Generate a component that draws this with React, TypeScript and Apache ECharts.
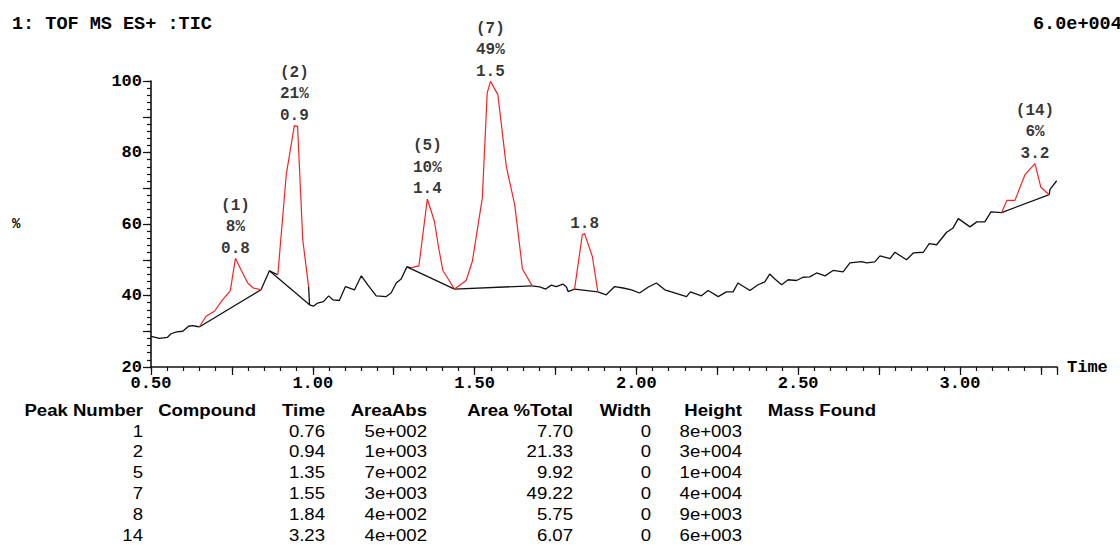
import React, { useEffect, useRef } from "react";
import * as echarts from "echarts";

// ---------- data ----------
const traceTimes = [
  0.5, 0.526, 0.551, 0.562, 0.579, 0.598, 0.616, 0.629, 0.639, 0.649,
  0.67, 0.696, 0.721, 0.745, 0.761, 0.778, 0.799, 0.816, 0.84, 0.866,
  0.892, 0.918, 0.943, 0.953, 0.969, 0.987, 0.99, 1.002, 1.015, 1.033,
  1.049, 1.062, 1.082, 1.101, 1.129, 1.15, 1.17, 1.196, 1.227, 1.242,
  1.258, 1.273, 1.291, 1.304, 1.314, 1.328, 1.354, 1.376, 1.39, 1.402,
  1.42, 1.438, 1.474, 1.493, 1.524, 1.539, 1.549, 1.572, 1.598, 1.624,
  1.648, 1.678, 1.701, 1.72, 1.737, 1.753, 1.773, 1.784, 1.789, 1.809,
  1.833, 1.84, 1.864, 1.881, 1.907, 1.933, 1.959, 1.985, 2.01, 2.036,
  2.062, 2.088, 2.108, 2.155, 2.167, 2.201, 2.222, 2.253, 2.278, 2.299,
  2.314, 2.351, 2.376, 2.397, 2.412, 2.428, 2.449, 2.469, 2.495, 2.515,
  2.536, 2.557, 2.583, 2.608, 2.639, 2.66, 2.696, 2.712, 2.737, 2.753,
  2.784, 2.799, 2.835, 2.856, 2.887, 2.905, 2.928, 2.959, 2.979, 2.995,
  3.031, 3.052, 3.077, 3.096, 3.129, 3.145, 3.17, 3.201, 3.232, 3.25,
  3.276, 3.278, 3.299,
];
const traceValues = [
  28.6, 28.0, 28.3, 29.3, 29.8, 30.0, 31.4, 31.6, 31.4, 31.2,
  34.2, 35.6, 38.8, 41.3, 50.4, 47.2, 43.5, 42.1, 41.6, 46.9,
  45.8, 73.8, 87.5, 87.3, 55.6, 42.5, 37.4, 37.0, 37.9, 38.3,
  39.9, 38.8, 38.6, 42.5, 41.6, 45.5, 43.0, 39.9, 39.7, 40.7,
  43.5, 44.6, 48.0, 47.7, 48.0, 48.3, 67.0, 60.7, 52.8, 47.0,
  44.4, 41.8, 44.2, 49.5, 67.3, 96.6, 99.9, 96.2, 76.1, 65.4,
  47.4, 42.7, 42.4, 41.8, 42.9, 42.5, 43.2, 42.4, 41.1, 41.8,
  57.0, 57.3, 50.9, 41.0, 40.2, 42.5, 42.1, 41.6, 40.7, 42.3,
  43.5, 41.6, 41.0, 39.7, 41.0, 39.9, 41.4, 39.7, 41.0, 41.0,
  43.5, 41.4, 43.0, 43.8, 46.0, 44.6, 43.0, 44.4, 44.2, 45.1,
  45.2, 46.3, 45.5, 47.0, 46.6, 49.1, 49.5, 49.1, 49.4, 51.1,
  50.3, 52.1, 50.0, 51.9, 52.1, 54.5, 54.2, 57.7, 58.9, 61.5,
  59.2, 60.6, 60.6, 63.4, 63.2, 66.6, 66.6, 73.8, 76.9, 70.3,
  68.2, 69.6, 72.1,
];

const peakStarts = [0.649, 0.892, 1.304, 1.438, 1.809, 3.129];
const peakEnds = [0.84, 0.987, 1.438, 1.678, 1.881, 3.276];
const baselineStarts = [0.649, 0.866, 1.291, 1.438, 1.809, 3.129];
const baselineEnds = [0.84, 0.99, 1.438, 1.678, 1.881, 3.276];
const peakIdLabels = ["(1)", "(2)", "(5)", "(7)", "", "(14)"];
const peakPercentLabels = ["8%", "21%", "10%", "49%", "", "6%"];
const peakTimeLabels = ["0.8", "0.9", "1.4", "1.5", "1.8", "3.2"];

const xMin = 0.5;
const xMax = 3.3;
const yMin = 20;
const yMax = 100;
const xAxisName = "Time";
const headerLeft = "1: TOF MS ES+ :TIC";
const headerRight = "6.0e+004";
const yUnit = "%";

const tableHeaders = ["Peak Number", "Compound", "Time", "AreaAbs", "Area %Total", "Width", "Height", "Mass Found"];
const tablePeak = ["1", "2", "5", "7", "8", "14"];
const tableCompound = ["", "", "", "", "", ""];
const tableTime = ["0.76", "0.94", "1.35", "1.55", "1.84", "3.23"];
const tableAreaAbs = ["5e+002", "1e+003", "7e+002", "3e+003", "4e+002", "4e+002"];
const tableAreaPct = ["7.70", "21.33", "9.92", "49.22", "5.75", "6.07"];
const tableWidth = ["0", "0", "0", "0", "0", "0"];
const tableHeight = ["8e+003", "3e+004", "1e+004", "4e+004", "9e+003", "6e+003"];
const tableMass = ["", "", "", "", "", ""];

// ---------- layout / style ----------
const MONO = "'Liberation Mono', 'Courier New', monospace";
const SANS = "'Liberation Sans', Arial, Helvetica, sans-serif";
const INK = "#111";
const RED = "#ff1f1f";
const EPS = 1e-6;

function idxOf(t: number) {
  let best = 0;
  for (let i = 0; i < traceTimes.length; i++) {
    if (Math.abs(traceTimes[i] - t) < Math.abs(traceTimes[best] - t)) best = i;
  }
  return best;
}

export default function App() {
  const ref = useRef<HTMLDivElement>(null);

  useEffect(() => {
    if (!ref.current) return;
    const chart = echarts.init(ref.current, null, { renderer: "svg" });

    const insidePeak = (t: number) =>
      peakStarts.some((s, k) => t > s + EPS && t < peakEnds[k] - EPS);

    const blackData = traceTimes.map((t, i) => (insidePeak(t) ? [t, "-"] : [t, traceValues[i]]));

    const redSeries = peakStarts.map((s, k) => ({
      type: "line",
      xAxisIndex: 0,
      yAxisIndex: 0,
      data: traceTimes
        .map((t, i) => [t, traceValues[i]])
        .filter((p) => p[0] >= s - EPS && p[0] <= peakEnds[k] + EPS),
      symbol: "none",
      silent: true,
      lineStyle: { color: RED, width: 1.2 },
      z: 4,
    }));

    const baselineSeries = baselineStarts.map((s, k) => {
      const a = idxOf(s);
      const b = idxOf(baselineEnds[k]);
      return {
        type: "line",
        xAxisIndex: 0,
        yAxisIndex: 0,
        data: [
          [traceTimes[a], traceValues[a]],
          [traceTimes[b], traceValues[b]],
        ],
        symbol: "none",
        silent: true,
        lineStyle: { color: INK, width: 1.3 },
        z: 3,
      };
    });

    const apexData = peakStarts.map((s, k) => {
      let best = -1;
      traceTimes.forEach((t, i) => {
        if (t >= s - EPS && t <= peakEnds[k] + EPS && (best < 0 || traceValues[i] > traceValues[best])) best = i;
      });
      const text = [peakIdLabels[k], peakPercentLabels[k], peakTimeLabels[k]].filter((x) => x).join("\n");
      return { value: [traceTimes[best], traceValues[best]], label: { formatter: text } };
    });

    const colRight = [143, 256, 325, 427, 573, 651, 742, 876];
    const tableCols = [tablePeak, tableCompound, tableTime, tableAreaAbs, tableAreaPct, tableWidth, tableHeight, tableMass];
    const stretch = 1.16;
    const tableGraphics: any[] = [];
    tableHeaders.forEach((h, c) => {
      tableGraphics.push({
        type: "text",
        x: colRight[c],
        y: 410,
        scaleX: stretch,
        silent: true,
        style: { text: h, fill: "#000", fontFamily: SANS, fontSize: 16, fontWeight: "bold", align: "right", verticalAlign: "middle" },
      });
      tableCols[c].forEach((v, r) => {
        if (!v) return;
        tableGraphics.push({
          type: "text",
          x: colRight[c],
          y: 431 + r * 20.8,
          scaleX: stretch,
          silent: true,
          style: { text: v, fill: "#000", fontFamily: SANS, fontSize: 16, align: "right", verticalAlign: "middle" },
        });
      });
    });

    const axisFont = { color: "#000", fontFamily: MONO, fontWeight: "bold", fontSize: 17 };

    const option: any = {
      animation: false,
      grid: { left: 151, right: 63, top: 81, bottom: 178, containLabel: false, outerBoundsMode: "none" },
      xAxis: [
        {
          type: "value",
          min: xMin,
          max: xMax,
          interval: 0.5,
          position: "bottom",
          name: xAxisName,
          nameLocation: "end",
          nameGap: 10,
          nameTextStyle: { ...axisFont, verticalAlign: "middle" },
          axisLine: { show: true, lineStyle: { color: INK, width: 1.6 } },
          axisTick: { show: false },
          splitLine: { show: false },
          axisLabel: {
            ...axisFont,
            margin: 8,
            showMaxLabel: false,
            formatter: (v: number) => v.toFixed(2),
          },
        },
        {
          type: "value",
          min: xMin,
          max: xMax,
          interval: 0.25,
          position: "bottom",
          offset: 0,
          axisLine: { show: false },
          axisTick: { show: true, length: 8, lineStyle: { color: INK, width: 1.2 } },
          axisLabel: { show: false },
          splitLine: { show: false },
        },
        {
          type: "value",
          min: xMin,
          max: xMax,
          interval: 0.05,
          position: "bottom",
          offset: 0,
          axisLine: { show: false },
          axisTick: { show: true, length: 4, lineStyle: { color: INK, width: 1.2 } },
          axisLabel: { show: false },
          splitLine: { show: false },
        },
      ],
      yAxis: [
        {
          type: "value",
          min: yMin,
          max: yMax,
          interval: 20,
          position: "left",
          axisLine: { show: true, lineStyle: { color: INK, width: 1.6 } },
          axisTick: { show: false },
          splitLine: { show: false },
          axisLabel: { ...axisFont, margin: 9 },
        },
        {
          type: "value",
          min: yMin,
          max: yMax,
          interval: 10,
          position: "left",
          offset: 0,
          axisLine: { show: false },
          axisTick: { show: true, length: 8, lineStyle: { color: INK, width: 1.2 } },
          axisLabel: { show: false },
          splitLine: { show: false },
        },
        {
          type: "value",
          min: yMin,
          max: yMax,
          interval: 2,
          position: "left",
          offset: 0,
          axisLine: { show: false },
          axisTick: { show: true, length: 4, lineStyle: { color: INK, width: 1.2 } },
          axisLabel: { show: false },
          splitLine: { show: false },
        },
      ],
      graphic: [
        {
          type: "text",
          x: 12,
          y: 24,
          silent: true,
          style: { text: headerLeft, fill: "#000", fontFamily: MONO, fontWeight: "bold", fontSize: 18.5, verticalAlign: "middle" },
        },
        {
          type: "text",
          x: 1033,
          y: 24,
          silent: true,
          style: { text: headerRight, fill: "#000", fontFamily: MONO, fontWeight: "bold", fontSize: 18.5, verticalAlign: "middle" },
        },
        {
          type: "text",
          x: 12,
          y: 224,
          silent: true,
          style: { text: yUnit, fill: "#000", fontFamily: MONO, fontWeight: "bold", fontSize: 14, verticalAlign: "middle" },
        },
        ...tableGraphics,
      ],
      series: [
        {
          type: "line",
          xAxisIndex: 0,
          yAxisIndex: 0,
          data: blackData,
          symbol: "none",
          silent: true,
          connectNulls: false,
          lineStyle: { color: INK, width: 1.3 },
          z: 3,
        },
        ...redSeries,
        ...baselineSeries,
        {
          type: "scatter",
          xAxisIndex: 0,
          yAxisIndex: 0,
          data: apexData,
          symbolSize: 0,
          silent: true,
          z: 5,
          label: {
            show: true,
            position: "top",
            distance: -1,
            align: "center",
            color: "#000",
            fontFamily: MONO,
            fontWeight: "bold",
            fontSize: 16,
            lineHeight: 21.5,
          },
        },
      ],
    };

    chart.setOption(option);
    return () => chart.dispose();
  }, []);

  return (
    <div
      ref={ref}
      style={{ position: "fixed", left: 0, top: 0, width: 1120, height: 545, background: "#fff" }}
    />
  );
}
